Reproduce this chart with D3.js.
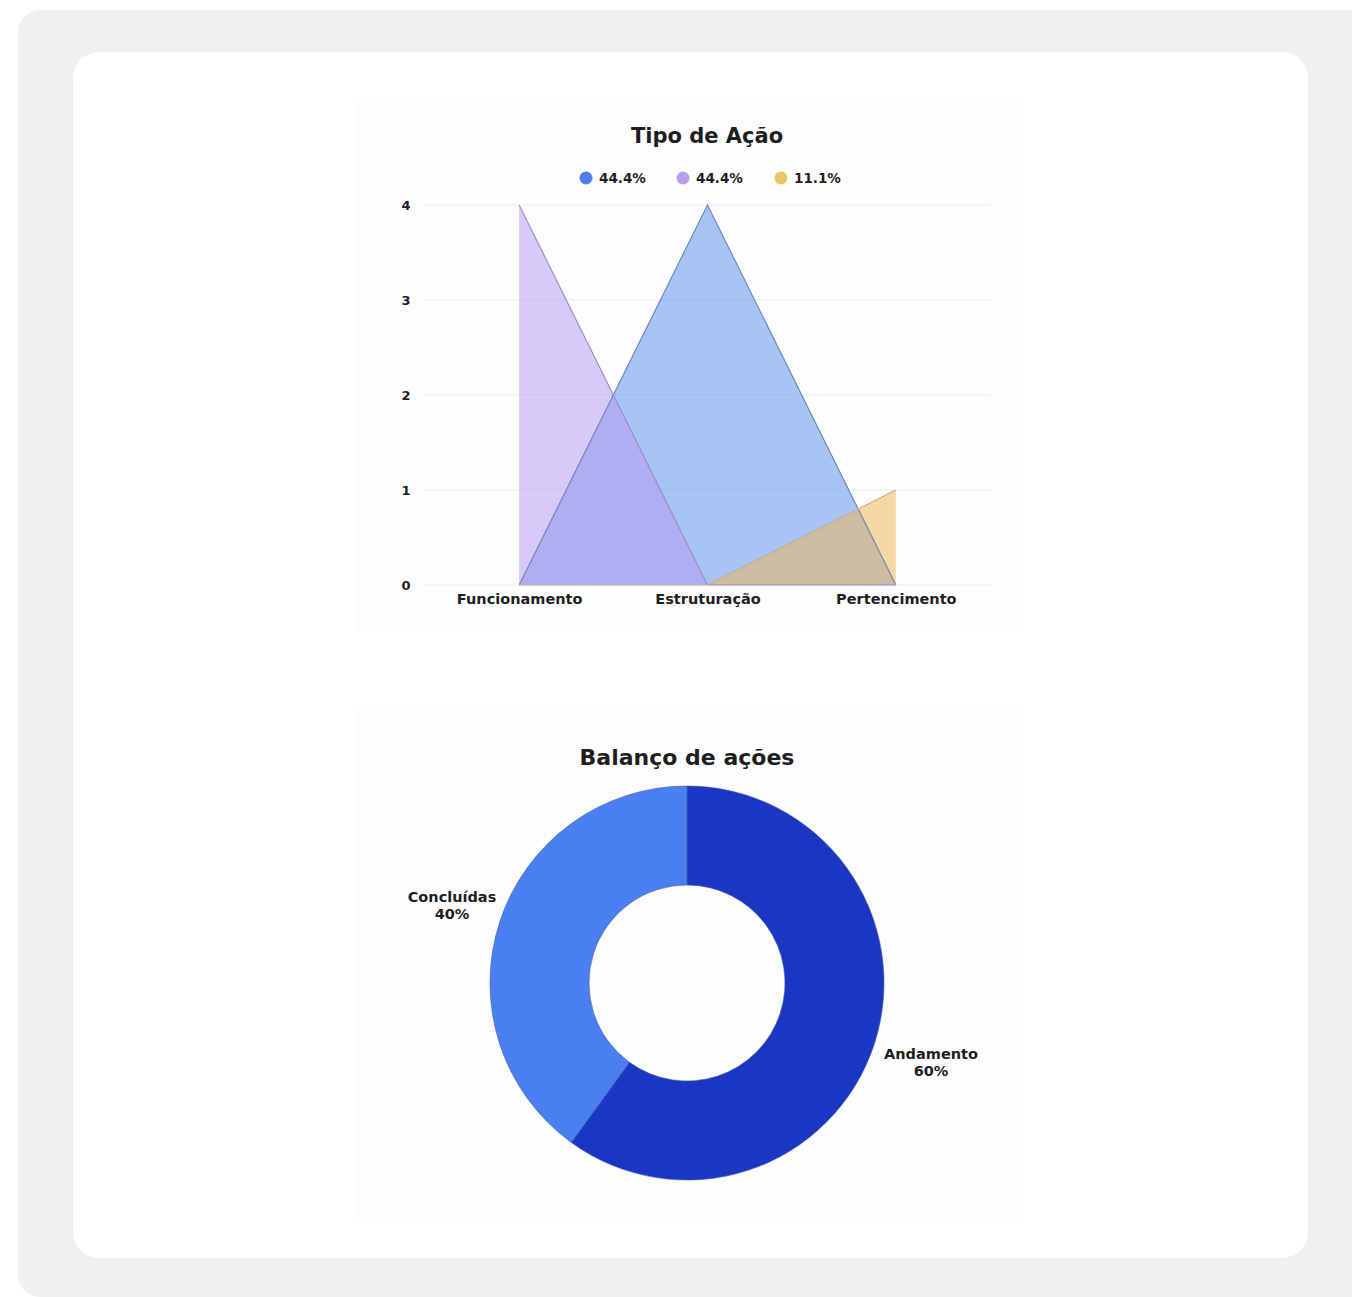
<!DOCTYPE html>
<html>
<head>
<meta charset="utf-8">
<script src="https://cdn.jsdelivr.net/npm/d3@7"></script>
<style>
  html, body { margin: 0; padding: 0; background: #ffffff; }
  svg { display: block; }
  text { font-family: "DejaVu Sans", sans-serif; font-weight: 700; fill: #1e1e1e; }
</style>
</head>
<body>
<svg id="chart" width="1352" height="1297"></svg>
<script>
// ---- Data ----
const categories = ["Funcionamento", "Estruturação", "Pertencimento"];
const seriesBlue = [0, 4, 0];
const seriesPurple = [4, 0, 0];
const seriesYellow = [0, 0, 1];
const legendLabels = ["44.4%", "44.4%", "11.1%"];
const yTicks = [0, 1, 2, 3, 4];
const donutLabels = ["Andamento", "Concluídas"];
const donutValues = [60, 40];

const svg = d3.select("#chart");

// Background frame and card
svg.append("rect").attr("x", 18).attr("y", 10).attr("width", 1360).attr("height", 1287)
  .attr("rx", 22).attr("fill", "#f0f0f0");
svg.append("rect").attr("x", 73).attr("y", 52).attr("width", 1235).attr("height", 1206)
  .attr("rx", 26).attr("fill", "#ffffff");
// chart panels (very faint)
svg.append("rect").attr("x", 356).attr("y", 98).attr("width", 666).attr("height", 534).attr("fill", "#fdfdfd");
svg.append("rect").attr("x", 356).attr("y", 705).attr("width", 666).attr("height", 517).attr("fill", "#fdfdfd");

// ---- Area chart ----
const x = d3.scalePoint().domain(categories).range([425, 990]).padding(0.5);
const y = d3.scaleLinear().domain([0, 4]).range([585, 205]);

svg.append("text").attr("x", 707).attr("y", 143).attr("text-anchor", "middle")
  .attr("font-size", 21).text("Tipo de Ação");

// grid
const grid = svg.append("g");
grid.selectAll("line").data(yTicks).join("line")
  .attr("x1", 425).attr("x2", 990)
  .attr("y1", d => y(d)).attr("y2", d => y(d))
  .attr("stroke", "#ececec").attr("stroke-width", 1);

// y axis labels
const yAxis = d3.axisLeft(y).tickValues(yTicks).tickFormat(d3.format("d")).tickSize(0).tickPadding(0);
const yg = svg.append("g").attr("transform", "translate(411,0)").call(yAxis);
yg.select(".domain").remove();
yg.selectAll("text").attr("font-size", 13).attr("fill", "#1e1e1e")
  .attr("font-family", "DejaVu Sans").attr("font-weight", 700).attr("text-anchor", "middle").attr("dx", -5);

// x axis labels
const xAxis = d3.axisBottom(x).tickSize(0).tickPadding(0);
const xg = svg.append("g").attr("transform", "translate(0,594)").call(xAxis);
xg.select(".domain").remove();
xg.selectAll("text").attr("font-size", 14.5).attr("fill", "#1e1e1e")
  .attr("font-family", "DejaVu Sans").attr("font-weight", 700).attr("dy", "0.71em");

const seriesList = [
  { values: seriesBlue, color: "#5b8def", stroke: "#6f86b8" },
  { values: seriesPurple, color: "#b69cf0", stroke: "#9c8cc8" },
  { values: seriesYellow, color: "#eeb850", stroke: "#c8b08a" }
];
const area = d3.area().x((d, i) => x(categories[i])).y0(y(0)).y1(d => y(d));
const line = d3.line().x((d, i) => x(categories[i])).y(d => y(d));
seriesList.forEach(s => {
  svg.append("path").datum(s.values).attr("d", area)
    .attr("fill", s.color).attr("fill-opacity", 0.52);
});
seriesList.forEach(s => {
  svg.append("path").datum(s.values).attr("d", line)
    .attr("fill", "none").attr("stroke", s.stroke).attr("stroke-width", 1.2);
});

// legend
const legendColors = ["#4f7fe6", "#b99cec", "#e9c766"];
const legendX = [586, 683, 781];
legendLabels.forEach((t, i) => {
  svg.append("circle").attr("cx", legendX[i]).attr("cy", 178).attr("r", 6.5).attr("fill", legendColors[i]);
  svg.append("text").attr("x", legendX[i] + 13).attr("y", 183).attr("font-size", 13.5).text(t);
});

// ---- Donut ----
svg.append("text").attr("x", 687).attr("y", 765).attr("text-anchor", "middle")
  .attr("font-size", 22).text("Balanço de ações");

const cx = 687, cy = 983, rOuter = 197, rInner = 98;
const pie = d3.pie().sort(null).value(d => d);
const arcs = pie(donutValues);
const arc = d3.arc().innerRadius(rInner).outerRadius(rOuter);
const donutColors = ["#1c36c4", "#4a7ff0"];
const dg = svg.append("g").attr("transform", `translate(${cx},${cy})`);
dg.selectAll("path").data(arcs).join("path")
  .attr("d", arc).attr("fill", (d, i) => donutColors[i])
  .attr("stroke", "#3a5ab0").attr("stroke-width", 0.6);

// labels
const labelPos = [[931, 1059], [452, 902]];
arcs.forEach((a, i) => {
  const t = svg.append("text").attr("x", labelPos[i][0]).attr("y", labelPos[i][1])
    .attr("text-anchor", "middle").attr("font-size", 14.5);
  t.append("tspan").attr("x", labelPos[i][0]).text(donutLabels[i]);
  t.append("tspan").attr("x", labelPos[i][0]).attr("dy", 17).text(donutValues[i] + "%");
});
</script>
</body>
</html>
